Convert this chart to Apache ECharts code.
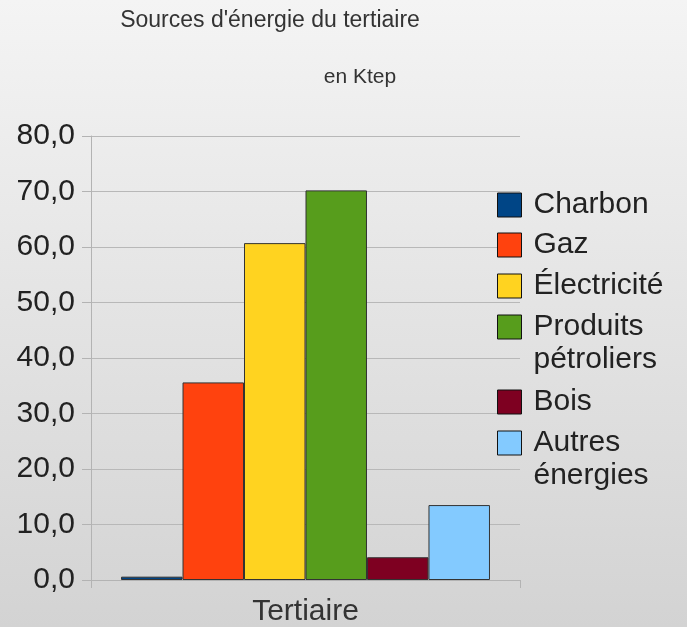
<!DOCTYPE html>
<html>
<head>
<meta charset="utf-8">
<title>Sources d'énergie du tertiaire</title>
<script src="https://cdn.jsdelivr.net/npm/echarts@6/dist/echarts.min.js"></script>
<style>
  html, body { margin: 0; padding: 0; overflow: hidden; }
  #chart { width: 687px; height: 627px; }
</style>
</head>
<body>
<div id="chart"></div>
<script>
// Consommation du tertiaire par source d'énergie (ktep)
const categories = ['Tertiaire'];
const seriesNames = ['Charbon', 'Gaz', 'Électricité', 'Produits pétroliers', 'Bois', 'Autres énergies'];
const seriesValues = [0.6, 35.6, 60.7, 70.2, 4.1, 13.5];
const yTickLabels = ['0,0', '10,0', '20,0', '30,0', '40,0', '50,0', '60,0', '70,0', '80,0'];

const palette = ['#004586', '#ff420e', '#ffd320', '#579d1c', '#7e0021', '#83caff'];
const FONT = 'Liberation Sans, Arial, sans-serif';

// legend symbol tops, one per entry
const legendSymbolTops = [193, 233, 274, 315, 390, 431];

// long names go on two lines; an empty leading line keeps the
// first line level with the colour square
function isWrapped(name) {
  return name.length > 12;
}
function legendLabel(name) {
  return isWrapped(name) ? '\n' + name.replace(' ', '\n') : name;
}

const series = seriesNames.map((name, i) => ({
  name: name,
  type: 'bar',
  data: [seriesValues[i]],
  barGap: '0%',
  barCategoryGap: '14%',
  itemStyle: { color: palette[i], borderColor: '#333', borderWidth: 1 }
}));

const legends = seriesNames.map((name, i) => ({
  data: [{ name: name, icon: 'rect' }],
  orient: 'vertical',
  left: 497,
  top: legendSymbolTops[i] - (isWrapped(name) ? 37.5 : 4.5),
  padding: 0,
  itemWidth: 24,
  itemHeight: 24,
  selectedMode: false,
  formatter: legendLabel,
  itemStyle: { borderColor: '#111', borderWidth: 1 },
  textStyle: {
    fontFamily: FONT,
    fontSize: 30,
    lineHeight: 33,
    color: '#222',
    padding: [0, 0, 0, 7]
  }
}));

const chart = echarts.init(document.getElementById('chart'), null, { renderer: 'canvas', width: 687, height: 627 });
chart.setOption({
  animation: false,
  backgroundColor: {
    type: 'linear', x: 0, y: 0, x2: 0, y2: 1,
    colorStops: [
      { offset: 0, color: '#f4f4f4' },
      { offset: 1, color: '#d3d3d3' }
    ]
  },
  title: [
    {
      text: "Sources d'énergie du tertiaire",
      left: 265,
      top: 4,
      textAlign: 'center',
      textStyle: { fontFamily: FONT, fontSize: 23, fontWeight: 'normal', color: '#333' }
    },
    {
      text: 'en Ktep',
      left: 355,
      top: 62,
      textAlign: 'center',
      textStyle: { fontFamily: FONT, fontSize: 21, fontWeight: 'normal', color: '#333' }
    }
  ],
  legend: legends,
  grid: { left: 91, top: 136, width: 429, height: 447, containLabel: false },
  xAxis: {
    type: 'category',
    data: categories,
    boundaryGap: true,
    axisLine: { show: true, lineStyle: { color: '#b3b3b3', width: 1 } },
    axisTick: { show: true, length: 8, lineStyle: { color: '#b3b3b3' } },
    axisLabel: { margin: 17, fontFamily: FONT, fontSize: 30, color: '#333' }
  },
  yAxis: {
    type: 'value',
    min: 0,
    max: 80,
    interval: 10,
    axisLine: { show: true, lineStyle: { color: '#b3b3b3', width: 1 } },
    axisTick: { show: true, length: 9, lineStyle: { color: '#b3b3b3' } },
    axisLabel: {
      margin: 16,
      fontFamily: FONT,
      fontSize: 30,
      color: '#222',
      formatter: (v) => yTickLabels[Math.round(v / 10)]
    },
    splitLine: { show: true, lineStyle: { color: '#b8b8b8', width: 1 } }
  },
  series: series
});
</script>
</body>
</html>
